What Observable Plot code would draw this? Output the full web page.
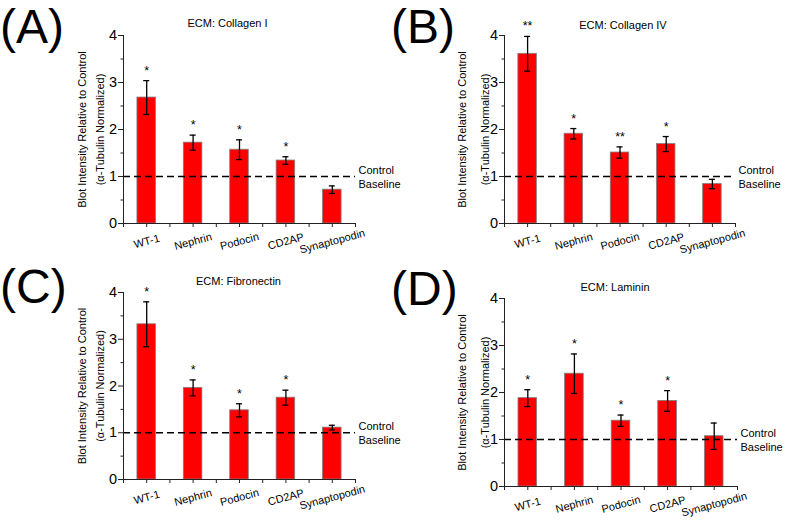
<!DOCTYPE html>
<html>
<head>
<meta charset="utf-8">
<script src="https://cdn.jsdelivr.net/npm/d3@7"></script>
<script src="https://cdn.jsdelivr.net/npm/@observablehq/plot@0.6"></script>
<style>
  html, body { margin: 0; padding: 0; background: #fff; }
  #root { position: relative; width: 787px; height: 527px; overflow: hidden; font-family: "Liberation Sans", Arial, sans-serif; }
  .panel { position: absolute; }
  .letter { position: absolute; font-size: 48px; line-height: 52px; color: #000; font-family: "Liberation Sans", Arial, sans-serif; }
</style>
</head>
<body>
<div id="root"></div>
<script>
// ---- data ----
const categories = ["WT-1", "Nephrin", "Podocin", "CD2AP", "Synaptopodin"];
const panelLetters = ["(A)", "(B)", "(C)", "(D)"];
const titles = ["ECM: Collagen I", "ECM: Collagen IV", "ECM: Fibronectin", "ECM: Laminin"];

const collagenI = [2.68, 1.72, 1.57, 1.34, 0.72];
const collagenIErr = [0.36, 0.16, 0.21, 0.08, 0.08];
const collagenIStars = ["*", "*", "*", "*", ""];

const collagenIV = [3.61, 1.91, 1.51, 1.69, 0.84];
const collagenIVErr = [0.37, 0.11, 0.12, 0.16, 0.10];
const collagenIVStars = ["**", "*", "**", "*", ""];

const fibronectin = [3.32, 1.96, 1.48, 1.75, 1.11];
const fibronectinErr = [0.48, 0.17, 0.14, 0.16, 0.05];
const fibronectinStars = ["*", "*", "*", "*", ""];

const laminin = [1.88, 2.40, 1.40, 1.82, 1.07];
const lamininErr = [0.18, 0.42, 0.12, 0.22, 0.28];
const lamininStars = ["*", "*", "*", "*", ""];

const baseline = 1;
const baselineLabel = "Control\nBaseline";
const yMajorTicks = [0, 1, 2, 3, 4];
const yMinorTicks = [0.5, 1.5, 2.5, 3.5];
const yLabel1 = "Blot Intensity Relative to Control";
const yLabel2 = "(α-Tubulin Normalized)";

const series = [
  {values: collagenI, errs: collagenIErr, stars: collagenIStars},
  {values: collagenIV, errs: collagenIVErr, stars: collagenIVStars},
  {values: fibronectin, errs: fibronectinErr, stars: fibronectinStars},
  {values: laminin, errs: lamininErr, stars: lamininStars}
];

// ---- layout (per panel) ----
const layout = [
  {left: 0,   top: 0,   width: 397, height: 262, mL: 123, mR: 42, mT: 35, mB: 39, lab1: 41, lab2: 23, tdx: -12, tdy: -12, letterLeft: 0,   letterTop: 1},
  {left: 390, top: 0,   width: 397, height: 262, mL: 114, mR: 52, mT: 35, mB: 39, lab1: 42, lab2: 19, tdx: 3,   tdy: -10, letterLeft: 391, letterTop: 1},
  {left: 0,   top: 260, width: 397, height: 267, mL: 123, mR: 42, mT: 32, mB: 48, lab1: 41, lab2: 23, tdx: -1,  tdy: -11, letterLeft: 0,   letterTop: 261},
  {left: 390, top: 262, width: 397, height: 265, mL: 114, mR: 50, mT: 36, mB: 41, lab1: 42, lab2: 19, tdx: -6,  tdy: -11, letterLeft: 391, letterTop: 263}
];

const root = document.getElementById("root");
const axisColor = "#222";

series.forEach((s, p) => {
  const L = layout[p];
  const rows = categories.map((c, i) => ({i, c, v: s.values[i], e: s.errs[i], star: s.stars[i]}));
  const chart = Plot.plot({
    width: L.width,
    height: L.height,
    marginLeft: L.mL,
    marginRight: L.mR,
    marginTop: L.mT,
    marginBottom: L.mB,
    style: {fontFamily: "'Liberation Sans', Arial, sans-serif", background: "transparent", overflow: "visible"},
    x: {domain: [-0.5, categories.length - 0.5], axis: null},
    y: {domain: [0, 4], axis: null},
    marks: [
      Plot.rectY(rows, {x1: d => d.i - 0.2, x2: d => d.i + 0.2, y: "v", fill: "#ff0000", stroke: "#808080", strokeWidth: 0.8}),
      Plot.ruleY([baseline], {stroke: "#000", strokeWidth: 1.4, strokeDasharray: "7,4"}),
      Plot.ruleX(rows, {x: "i", y1: d => d.v - d.e, y2: d => d.v + d.e, stroke: "#000", strokeWidth: 1.3}),
      Plot.ruleY(rows, {x1: d => d.i - 0.065, x2: d => d.i + 0.065, y: d => d.v + d.e, stroke: "#000", strokeWidth: 1.3}),
      Plot.ruleY(rows, {x1: d => d.i - 0.065, x2: d => d.i + 0.065, y: d => d.v - d.e, stroke: "#000", strokeWidth: 1.3}),
      Plot.text(rows, {x: "i", y: d => d.v + d.e, text: "star", dy: -10, fontSize: 12.5, fill: "#000"}),
      Plot.frame({anchor: "left", stroke: axisColor}),
      Plot.frame({anchor: "bottom", stroke: axisColor}),
      Plot.axisY({ticks: yMajorTicks, tickSize: 5, tickPadding: 1.5, tickFormat: d3.format("d"), fontSize: 14.5, stroke: axisColor, fill: "#000", label: null}),
      Plot.axisY({ticks: yMinorTicks, tickSize: 2.5, tickFormat: () => "", stroke: axisColor, label: null}),
      Plot.axisX({ticks: d3.range(-0.5, categories.length, 0.5), tickSize: 4, tickFormat: () => "", stroke: axisColor, label: null}),
      Plot.text(rows, {x: "i", y: 0, text: "c", dy: 18, rotate: -15, fontSize: 11, fill: "#000"}),
      Plot.text([baselineLabel], {x: categories.length - 0.5, y: baseline, text: d => d, textAnchor: "start", dx: 3, fontSize: 11, lineHeight: 1.25, fill: "#000"}),
      Plot.text([titles[p]], {frameAnchor: "top", text: d => d, textAnchor: "middle", lineAnchor: "middle", dx: L.tdx, dy: L.tdy, fontSize: 11, fill: "#000"}),
      Plot.text([yLabel1], {frameAnchor: "left", text: d => d, textAnchor: "middle", lineAnchor: "middle", dx: -L.lab1, rotate: -90, fontSize: 11, fill: "#000"}),
      Plot.text([yLabel2], {frameAnchor: "left", text: d => d, textAnchor: "middle", lineAnchor: "middle", dx: -L.lab2, rotate: -90, fontSize: 11, fill: "#000"})
    ]
  });
  const wrap = document.createElement("div");
  wrap.className = "panel";
  wrap.style.left = L.left + "px";
  wrap.style.top = L.top + "px";
  wrap.appendChild(chart);
  root.appendChild(wrap);

  const letter = document.createElement("div");
  letter.className = "letter";
  letter.textContent = panelLetters[p];
  letter.style.left = L.letterLeft + "px";
  letter.style.top = L.letterTop + "px";
  root.appendChild(letter);
});
</script>
</body>
</html>
